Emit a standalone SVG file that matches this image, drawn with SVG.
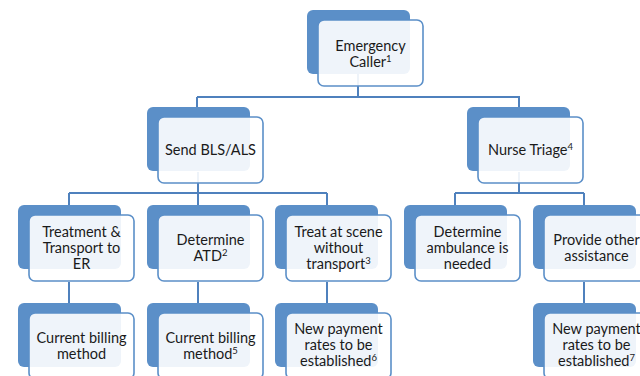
<svg xmlns="http://www.w3.org/2000/svg" width="640" height="376" viewBox="0 0 640 376">
<style>
.back{fill:#5b8fc8;}
.front{fill:#ffffff;fill-opacity:0.9;stroke:#5b8fc8;stroke-width:1.6;}
.conn{fill:none;stroke:#4f81bd;stroke-width:2;}
text{font-family:Lato,"Liberation Sans",sans-serif;font-size:14.5px;fill:#1a1a1a;text-anchor:middle;}
.sup{font-size:9.5px;}
</style>
<rect width="640" height="376" fill="#ffffff"/>
<g id="connectors">
<path class="conn" d="M358,74 V97 M197,97 H520 M197,97 V107 M519,97 V107"/>
<path class="conn" d="M198,172 V193 M69,193 H327 M69,193 V205 M198,193 V205 M327,193 V205"/>
<path class="conn" d="M519,172 V193 M455,193 H584 M455,193 V205 M584,193 V205"/>
<path class="conn" d="M69,282 V303 M198,282 V303 M327,282 V303 M584,282 V303"/>
</g>
<g id="caller">
<rect class="back" x="307" y="10" width="103" height="64" rx="6"/>
<rect class="front" x="318" y="20" width="105" height="66" rx="6"/>
<text x="370.5" y="51">Emergency</text>
<text x="370.5" y="67">Caller<tspan class="sup" dy="-5">1</tspan></text>
</g>
<g id="send">
<rect class="back" x="147" y="107" width="103" height="64" rx="6"/>
<rect class="front" x="158" y="117" width="105" height="66" rx="6"/>
<text x="210.5" y="155">Send BLS/ALS</text>
</g>
<g id="nurse">
<rect class="back" x="467" y="107" width="103" height="64" rx="6"/>
<rect class="front" x="478" y="117" width="105" height="66" rx="6"/>
<text x="530.5" y="155">Nurse Triage<tspan class="sup" dy="-5">4</tspan></text>
</g>
<g id="treatment">
<rect class="back" x="18" y="205" width="103" height="64" rx="6"/>
<rect class="front" x="29" y="215" width="105" height="66" rx="6"/>
<text x="81.5" y="237">Treatment &amp;</text>
<text x="81.5" y="253">Transport to</text>
<text x="81.5" y="269">ER</text>
</g>
<g id="atd">
<rect class="back" x="147" y="205" width="103" height="64" rx="6"/>
<rect class="front" x="158" y="215" width="105" height="66" rx="6"/>
<text x="210.5" y="245">Determine</text>
<text x="210.5" y="261">ATD<tspan class="sup" dy="-5">2</tspan></text>
</g>
<g id="treatscene">
<rect class="back" x="275" y="205" width="103" height="64" rx="6"/>
<rect class="front" x="286" y="215" width="105" height="66" rx="6"/>
<text x="338.5" y="237">Treat at scene</text>
<text x="338.5" y="253">without</text>
<text x="338.5" y="269">transport<tspan class="sup" dy="-5">3</tspan></text>
</g>
<g id="ambulance">
<rect class="back" x="404" y="205" width="103" height="64" rx="6"/>
<rect class="front" x="415" y="215" width="105" height="66" rx="6"/>
<text x="467.5" y="237">Determine</text>
<text x="467.5" y="253">ambulance is</text>
<text x="467.5" y="269">needed</text>
</g>
<g id="other">
<rect class="back" x="533" y="205" width="103" height="64" rx="6"/>
<rect class="front" x="544" y="215" width="105" height="66" rx="6"/>
<text x="596.5" y="245">Provide other</text>
<text x="596.5" y="261">assistance</text>
</g>
<g id="billing1">
<rect class="back" x="18" y="303" width="103" height="64" rx="6"/>
<rect class="front" x="29" y="313" width="105" height="66" rx="6"/>
<text x="81.5" y="343">Current billing</text>
<text x="81.5" y="359">method</text>
</g>
<g id="billing2">
<rect class="back" x="147" y="303" width="103" height="64" rx="6"/>
<rect class="front" x="158" y="313" width="105" height="66" rx="6"/>
<text x="210.5" y="343">Current billing</text>
<text x="210.5" y="359">method<tspan class="sup" dy="-5">5</tspan></text>
</g>
<g id="rates1">
<rect class="back" x="275" y="303" width="103" height="64" rx="6"/>
<rect class="front" x="286" y="313" width="105" height="66" rx="6"/>
<text x="338.5" y="334">New payment</text>
<text x="338.5" y="350">rates to be</text>
<text x="338.5" y="366">established<tspan class="sup" dy="-5">6</tspan></text>
</g>
<g id="rates2">
<rect class="back" x="533" y="303" width="103" height="64" rx="6"/>
<rect class="front" x="544" y="313" width="105" height="66" rx="6"/>
<text x="596.5" y="334">New payment</text>
<text x="596.5" y="350">rates to be</text>
<text x="596.5" y="366">established<tspan class="sup" dy="-5">7</tspan></text>
</g>
</svg>
